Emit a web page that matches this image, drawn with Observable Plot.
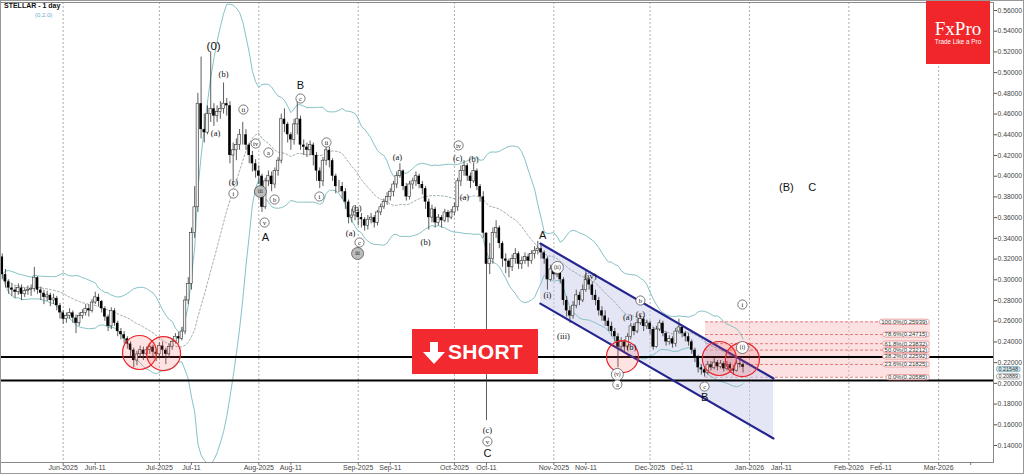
<!DOCTYPE html>
<html><head><meta charset="utf-8">
<script src="https://cdn.jsdelivr.net/npm/d3@7"></script>
<script src="https://cdn.jsdelivr.net/npm/@observablehq/plot@0.6"></script>
<style>
body{margin:0;background:#fff;}
#wrap{position:relative;width:1024px;height:474px;overflow:hidden;font-family:"Liberation Sans",Arial,sans-serif;}
#title{position:absolute;left:4px;top:2px;font:bold 7px "Liberation Sans",Arial,sans-serif;color:#111;}
#sub{position:absolute;left:35px;top:12px;font:6px "Liberation Sans",Arial,sans-serif;color:#6aaecc;}
#logo{position:absolute;left:926px;top:0;width:64px;height:64px;background:#f0262b;color:#fff;}
#logo .a{position:absolute;left:0;width:64px;top:18px;text-align:center;font:19px "Liberation Serif","Times New Roman",serif;}
#logo .b{position:absolute;left:0;width:64px;top:38px;text-align:center;font:6.3px "Liberation Sans",Arial,sans-serif;}
#short{position:absolute;left:412px;top:329px;width:126px;height:45px;background:#f2292e;}
#short span{position:absolute;left:36px;top:11px;font:bold 21px "Liberation Sans",Arial,sans-serif;color:#fff;letter-spacing:0.3px;}
#border{position:absolute;left:0;top:0;width:1022px;height:472px;border:1px solid #999;pointer-events:none;}
</style></head>
<body><div id="wrap"></div>
<script>
// ---------- data ----------
const firstDate = "2025-05-13";
const firstOpen = 0.322;
const closes = [
0.305,0.298,0.292,0.29,0.288,0.292,0.286,0.289,0.29,0.291,
0.302,0.29,0.287,0.283,0.285,0.28,0.282,0.275,0.268,0.262,
0.265,0.268,0.263,0.258,0.265,0.268,0.272,0.27,0.278,0.283,
0.279,0.272,0.264,0.255,0.27,0.258,0.25,0.247,0.243,0.238,
0.232,0.222,0.228,0.232,0.228,0.232,0.235,0.23,0.228,0.236,
0.232,0.228,0.235,0.24,0.245,0.243,0.25,0.28,0.296,0.345,
0.37,0.47,0.445,0.442,0.46,0.465,0.458,0.462,0.465,0.47,
0.468,0.42,0.425,0.43,0.44,0.44,0.43,0.42,0.412,0.405,
0.40,0.37,0.395,0.40,0.392,0.405,0.415,0.455,0.45,0.44,
0.435,0.45,0.455,0.43,0.428,0.425,0.43,0.42,0.405,0.395,
0.415,0.425,0.415,0.40,0.39,0.39,0.385,0.375,0.36,0.362,
0.365,0.36,0.358,0.352,0.358,0.36,0.355,0.365,0.37,0.375,
0.38,0.385,0.392,0.40,0.405,0.39,0.38,0.392,0.395,0.40,
0.392,0.388,0.375,0.36,0.368,0.355,0.36,0.357,0.365,0.36,
0.365,0.37,0.395,0.405,0.41,0.40,0.395,0.405,0.39,0.38,
0.345,0.315,0.32,0.345,0.35,0.335,0.32,0.318,0.312,0.32,
0.325,0.315,0.318,0.322,0.318,0.325,0.328,0.33,0.326,0.32,
0.30,0.31,0.305,0.312,0.30,0.28,0.27,0.265,0.275,0.285,
0.28,0.29,0.30,0.295,0.285,0.28,0.27,0.265,0.26,0.255,
0.25,0.245,0.235,0.24,0.235,0.245,0.255,0.25,0.258,0.262,
0.255,0.258,0.252,0.235,0.252,0.258,0.248,0.24,0.243,0.238,
0.25,0.254,0.248,0.245,0.24,0.232,0.225,0.215,0.213,0.21,
0.218,0.215,0.22,0.216,0.219,0.214,0.218,0.214,0.212,0.219,
0.218,0.2155];
const highs = [
0.325,0.31,0.30,0.296,0.293,0.296,0.295,0.292,0.294,0.295,
0.312,0.303,0.293,0.29,0.289,0.287,0.286,0.284,0.277,0.27,
0.268,0.272,0.27,0.266,0.268,0.271,0.276,0.276,0.281,0.288,
0.286,0.28,0.274,0.266,0.273,0.272,0.26,0.253,0.25,0.245,
0.24,0.234,0.231,0.236,0.235,0.235,0.238,0.237,0.233,0.239,
0.24,0.234,0.238,0.243,0.248,0.249,0.254,0.284,0.302,0.35,
0.39,0.48,0.515,0.46,0.468,0.52,0.47,0.468,0.472,0.49,
0.475,0.472,0.432,0.436,0.445,0.452,0.445,0.432,0.424,0.416,
0.41,0.402,0.398,0.405,0.404,0.408,0.418,0.46,0.465,0.452,
0.442,0.455,0.474,0.458,0.435,0.432,0.434,0.432,0.423,0.408,
0.418,0.43,0.428,0.417,0.402,0.396,0.394,0.388,0.377,0.368,
0.37,0.368,0.364,0.36,0.362,0.364,0.362,0.367,0.373,0.378,
0.384,0.388,0.395,0.404,0.412,0.406,0.393,0.395,0.398,0.404,
0.402,0.395,0.39,0.378,0.372,0.37,0.363,0.362,0.368,0.367,
0.368,0.374,0.398,0.41,0.415,0.412,0.403,0.413,0.407,0.392,
0.385,0.345,0.335,0.35,0.357,0.352,0.337,0.325,0.32,0.324,
0.33,0.327,0.322,0.326,0.325,0.328,0.332,0.337,0.334,0.328,
0.322,0.314,0.313,0.315,0.314,0.302,0.284,0.274,0.279,0.29,
0.288,0.295,0.309,0.302,0.298,0.29,0.283,0.274,0.27,0.263,
0.259,0.253,0.248,0.244,0.242,0.248,0.258,0.258,0.262,0.266,
0.264,0.261,0.26,0.254,0.255,0.261,0.26,0.25,0.246,0.245,
0.253,0.262,0.256,0.25,0.248,0.242,0.234,0.227,0.218,0.215,
0.221,0.221,0.224,0.222,0.222,0.221,0.221,0.22,0.217,0.222,
0.225,0.22];
const lows = [
0.30,0.292,0.286,0.284,0.282,0.285,0.28,0.283,0.285,0.284,
0.288,0.286,0.28,0.276,0.279,0.274,0.276,0.27,0.262,0.257,
0.258,0.262,0.258,0.248,0.255,0.262,0.265,0.264,0.268,0.276,
0.274,0.268,0.26,0.25,0.252,0.255,0.245,0.242,0.238,0.233,
0.226,0.215,0.217,0.224,0.222,0.225,0.228,0.226,0.221,0.225,
0.226,0.218,0.224,0.232,0.238,0.238,0.241,0.247,0.276,0.29,
0.34,0.365,0.436,0.432,0.44,0.452,0.448,0.452,0.455,0.46,
0.458,0.412,0.39,0.415,0.425,0.43,0.425,0.412,0.404,0.398,
0.392,0.365,0.368,0.39,0.385,0.388,0.40,0.412,0.442,0.432,
0.425,0.43,0.44,0.425,0.42,0.418,0.42,0.41,0.395,0.388,
0.39,0.41,0.408,0.395,0.383,0.384,0.378,0.368,0.354,0.355,
0.357,0.352,0.35,0.347,0.348,0.354,0.35,0.352,0.362,0.368,
0.372,0.376,0.38,0.388,0.398,0.386,0.376,0.377,0.387,0.39,
0.388,0.382,0.368,0.348,0.355,0.35,0.352,0.35,0.355,0.355,
0.358,0.362,0.366,0.39,0.40,0.395,0.388,0.393,0.386,0.375,
0.34,0.164,0.305,0.315,0.34,0.33,0.312,0.306,0.302,0.308,
0.315,0.31,0.31,0.315,0.312,0.315,0.32,0.324,0.32,0.315,
0.29,0.298,0.30,0.302,0.296,0.275,0.264,0.258,0.262,0.272,
0.275,0.278,0.288,0.29,0.28,0.275,0.265,0.26,0.255,0.25,
0.245,0.24,0.215,0.232,0.23,0.232,0.242,0.246,0.248,0.256,
0.25,0.252,0.247,0.232,0.234,0.25,0.245,0.236,0.237,0.234,
0.235,0.248,0.244,0.24,0.236,0.228,0.22,0.21,0.208,0.206,
0.208,0.212,0.213,0.212,0.214,0.211,0.212,0.21,0.208,0.211,
0.215,0.21];

const supportLevels = [0.2255, 0.2028];
const fibPct = ["100.0%","78.6%","61.8%","50.0%","38.2%","23.6%","0.0%"];
const fibVal = [0.25939,0.24715,0.23832,0.23212,0.22592,0.21825,0.20585];
const fibFromIdx = 219.3, fibToIdx = 289.4;

const channelIdx = [167.8, 240.5];
const channelTop = [0.335, 0.2047];
const channelBot = [0.277, 0.1468];

const circleIdx = [42.8, 50.3, 193.4, 223.6, 230.8];
const circleVal = [0.2298, 0.2288, 0.2259, 0.224, 0.223];
const circleR   = [17, 17, 16, 17, 17];

const crossIdx = [23, 39, 80, 104, 108, 150, 174, 215];
const crossVal = [0.2597, 0.2423, 0.393, 0.3823, 0.365, 0.3428, 0.2916, 0.2308];
const greenIdx = [56];
const greenVal = [0.251];

// wave labels: text, bar index, price, kind (p=paren serif, c=circled, g=grey circled, b=big sans, z=zero)
const waveText = ["(0)","(b)","(a)","ii","iv","a","(c)","i","iii","b","v","A","B","c","ii","i","(b)","(a)","c","iii",
 "(a)","(b)","iv","(c)","(b)","(a)","A","(i)","(ii)","(iii)","(iv)","(v)","a","(b)","(a)","(c)","b","c","B","i","(i)",
 "(c)","v","C","(B)","C"];
const waveIdx = [65.9,69,66.5,75.2,79,83,72.1,72.1,80.5,84.9,81.8,82.1,93,93,101.1,98.9,110.5,108.6,111.4,110.8,
 123.2,132,142.3,142,147,144.1,168.5,170,173.1,175,183.4,191.8,191.8,196.2,195,199,199,219,219,230.8,230.8,
 151.3,151.3,151.3,244.5,252.6];
const waveVal = [0.5253,0.4982,0.4412,0.4644,0.4316,0.4229,0.3939,0.3833,0.3852,0.3775,0.3553,0.3408,0.4876,0.475,0.4326,0.3804,0.3688,0.3447,0.336,0.3254,
 0.4181,0.336,0.4297,0.4171,0.4161,0.3795,0.3428,0.2848,0.3119,0.2452,0.3032,0.2086,0.1989,0.2346,0.2636,0.2665,0.28,0.197,0.1863,0.2761,0.2346,
 0.1545,0.1439,0.1323,0.3891,0.3891];
const waveKind = ["z","p","p","c","c","c","p","c","g","c","c","b","b","c","c","c","p","p","c","g",
 "p","p","c","p","p","p","b","p","c","p","p","c","c","p","p","p","c","c","b","c","c",
 "p","c","b","b","b"];

const yTicks = [0.14,0.16,0.18,0.20,0.22,0.24,0.26,0.28,0.30,0.32,0.34,0.36,0.38,0.40,0.42,0.44,0.46,0.48,0.50,0.52,0.54,0.56];
const xTickDates = ["2025-06-01","2025-06-11","2025-07-01","2025-07-11","2025-08-01","2025-08-11","2025-09-01","2025-09-11",
 "2025-10-01","2025-10-11","2025-11-01","2025-11-11","2025-12-01","2025-12-11","2026-01-01","2026-01-11",
 "2026-02-01","2026-02-11","2026-03-01","2026-03-11"];
const xTickLabels = ["Jun-2025","Jun-11","Jul-2025","Jul-11","Aug-2025","Aug-11","Sep-2025","Sep-11",
 "Oct-2025","Oct-11","Nov-2025","Nov-11","Dec-2025","Dec-11","Jan-2026","Jan-11",
 "Feb-2026","Feb-11","Mar-2026",""];
const monthStarts = ["2025-06-01","2025-07-01","2025-08-01","2025-09-01","2025-10-01","2025-11-01","2025-12-01","2026-01-01","2026-02-01","2026-03-01"];
const priceTagText = ["0.21548","0.20889"];
const priceTagVal = [0.21548, 0.20889];

// ---------- build ----------
const DAY = 864e5;
const t0 = Date.parse(firstDate + "T00:00:00Z");
const at = i => new Date(t0 + i * DAY);
const jun1 = Date.parse("2025-06-01T00:00:00Z");

const bars = closes.map((c, i) => ({
  date: at(i), open: i ? closes[i - 1] : firstOpen, close: c, high: highs[i], low: lows[i]
}));
const N = 20;
const bb = bars.map((b, i) => {
  const w = closes.slice(Math.max(0, i - N + 1), i + 1);
  const m = d3.mean(w);
  const sd = Math.sqrt(d3.mean(w, v => (v - m) ** 2));
  return {date: b.date, mid: m, up: m + 2 * sd, lo: m - 2 * sd};
});
const half = 0.4 * DAY;
const up = bars.filter(d => d.close >= d.open);
const dn = bars.filter(d => d.close < d.open);

const channel = channelIdx.map((ix, k) => ({date: at(ix), top: channelTop[k], bot: channelBot[k]}));
const fib = fibVal.map((v, k) => ({v, label: `${fibPct[k]}(${v.toFixed(5)})`}));
const circles = circleIdx.map((ix, k) => ({date: at(ix), v: circleVal[k], r: circleR[k]}));
const crosses = crossIdx.map((ix, k) => ({date: at(ix), v: crossVal[k]}));
const greens = greenIdx.map((ix, k) => ({date: at(ix), v: greenVal[k]}));
const waves = waveText.map((t, k) => ({text: t, date: at(waveIdx[k]), v: waveVal[k], kind: waveKind[k]}));
const circled = waves.filter(w => w.kind === "c" || w.kind === "g");
const tagData = priceTagText.map((t, k) => ({text: t, v: priceTagVal[k]}));
const xt = xTickDates.map(s => new Date(s + "T00:00:00Z"));
const xLabelOf = new Map(xt.map((d, k) => [+d, xTickLabels[k]]));

const chart = Plot.plot({
  width: 1024, height: 474,
  marginLeft: 0, marginRight: 31, marginTop: 2, marginBottom: 12,
  style: {fontFamily: "Liberation Sans, Arial, sans-serif", fontSize: "7px", background: "white", color: "#333"},
  x: {type: "utc", domain: [new Date(jun1 - 19.55 * DAY), new Date(jun1 + 290.1 * DAY)]},
  y: {domain: [0.1236, 0.5677]},
  r: {type: "identity"},
  marks: [
    Plot.ruleX(monthStarts.map(s => new Date(s + "T00:00:00Z")), {stroke: "#9a9a9a", strokeDasharray: "2,2", strokeWidth: 0.8}),
    Plot.rect([0], {x1: () => at(fibFromIdx), x2: () => at(fibToIdx), y1: () => fibVal[6], y2: () => fibVal[0], fill: "#f4b3b3", fillOpacity: 0.4}),
    Plot.ruleY(fib, {y: "v", x1: () => at(fibFromIdx), x2: () => at(fibToIdx), stroke: "#e06060", strokeDasharray: "3,2", strokeWidth: 0.8}),
    Plot.areaY(channel, {x: "date", y1: "top", y2: "bot", fill: "#c9cdeb", fillOpacity: 0.5}),
    Plot.line(bb, {x: "date", y: "up", stroke: "#86c2c6", strokeWidth: 1, clip: true}),
    Plot.line(bb, {x: "date", y: "lo", stroke: "#86c2c6", strokeWidth: 1, clip: true}),
    Plot.line(bb, {x: "date", y: "mid", stroke: "#8a9a9c", strokeWidth: 0.8, strokeDasharray: "2,2", clip: true}),
    Plot.ruleY(supportLevels, {stroke: "#000", strokeWidth: 2}),
    Plot.ruleX(bars, {x: "date", y1: "low", y2: "high", stroke: "#333", strokeWidth: 0.8}),
    Plot.rect(up, {x1: d => new Date(+d.date - half), x2: d => new Date(+d.date + half), y1: "open", y2: "close", fill: "#f2f2f2", stroke: "#333", strokeWidth: 0.6}),
    Plot.rect(dn, {x1: d => new Date(+d.date - half), x2: d => new Date(+d.date + half), y1: "open", y2: "close", fill: "#000"}),
    Plot.line(channel, {x: "date", y: "top", stroke: "#25258f", strokeWidth: 2.2}),
    Plot.line(channel, {x: "date", y: "bot", stroke: "#25258f", strokeWidth: 2.2}),
    Plot.dot(circles, {x: "date", y: "v", r: "r", fill: "#ff5050", fillOpacity: 0.16, stroke: "#e8262b", strokeWidth: 1.2}),
    Plot.dot(crosses, {x: "date", y: "v", symbol: "plus", r: 2.6, fill: "#b3151b"}),
    Plot.dot(greens, {x: "date", y: "v", symbol: "plus", r: 2.6, fill: "#2e9d3a"}),
    Plot.dot(circled, {x: "date", y: "v", r: d => d.text.length > 2 ? 6 : 4.6, fill: d => d.kind === "g" ? "#bdbdbd" : "white", stroke: "#444", strokeWidth: 0.7}),
    Plot.text(circled, {x: "date", y: "v", text: "text", fontSize: d => d.text.length > 2 ? 5.5 : 6.5, fontFamily: "Liberation Serif, serif", fill: "#111"}),
    Plot.text(waves.filter(w => w.kind === "p"), {x: "date", y: "v", text: "text", fontSize: 8.5, fontFamily: "Liberation Serif, serif", fill: "#111"}),
    Plot.text(waves.filter(w => w.kind === "b"), {x: "date", y: "v", text: "text", fontSize: 11, fontFamily: "Liberation Sans, Arial, sans-serif", fill: "#111"}),
    Plot.text(waves.filter(w => w.kind === "z"), {x: "date", y: "v", text: "text", fontSize: 11.5, fontFamily: "Liberation Sans, Arial, sans-serif", fill: "#111"}),
    Plot.text(fib, {x: () => at(fibToIdx), y: "v", text: "label", textAnchor: "end", dx: -3, fontSize: 6, fill: "#333"}),
    Plot.frame({stroke: "#888", strokeWidth: 1}),
    Plot.axisY({anchor: "right", ticks: yTicks, tickFormat: d => d.toFixed(5), tickSize: 3, tickPadding: 1, fontSize: 6.8, fill: "#444", stroke: "#555"}),
    Plot.axisX({ticks: xt, tickFormat: d => xLabelOf.get(+d) ?? "", tickSize: 3, tickPadding: 0, fontSize: 7, fill: "#444", stroke: "#777"}),
    Plot.text(tagData.slice(0, 1), {y: "v", text: "text", frameAnchor: "right", dx: 5, dy: 2, textAnchor: "start", fontSize: 5.4, fill: "#333"}),
    Plot.text(tagData.slice(1), {y: "v", text: "text", frameAnchor: "right", dx: 5, dy: 2.5, textAnchor: "start", fontSize: 5.4, fill: "#333"})
  ]
});

const wrap = document.getElementById("wrap");
wrap.appendChild(chart);

// rounded boxes behind fib labels and price tags
const NS = "http://www.w3.org/2000/svg";
const fibSet = new Set(fib.map(f => f.label));
const tagSet = new Set(priceTagText);
chart.querySelectorAll("text").forEach(t => {
  const s = t.textContent;
  let style = null;
  if (fibSet.has(s)) style = {fill: "#fff", stroke: "#e58a8a", rx: 3};
  else if (tagSet.has(s)) {
    style = s === "0.21548" ? {fill: "#cfe6ef", stroke: "#7aaabb", rx: 2} : {fill: "#fff", stroke: "#999", rx: 2};
  }
  if (!style) return;
  const b = t.getBBox();
  const r = document.createElementNS(NS, "rect");
  r.setAttribute("x", b.x - 2); r.setAttribute("y", b.y + 0.4);
  r.setAttribute("width", b.width + 4); r.setAttribute("height", b.height - 0.8);
  r.setAttribute("rx", style.rx); r.setAttribute("fill", style.fill);
  r.setAttribute("stroke", style.stroke); r.setAttribute("stroke-width", 0.8);
  const tr = t.getAttribute("transform"); if (tr) r.setAttribute("transform", tr);
  t.parentNode.insertBefore(r, t);
});

// overlays
wrap.insertAdjacentHTML("beforeend", `
<div id="title">STELLAR - 1 day</div>
<div id="sub">(0,2.0)</div>
<div id="logo"><div class="a">FxPro</div><div class="b">Trade Like a Pro</div></div>
<div id="short">
 <svg width="26" height="26" style="position:absolute;left:9px;top:12px" viewBox="0 0 26 26">
  <polygon points="9,1 17,1 17,11 24,11 13,23 2,11 9,11" fill="#fff"/>
 </svg>
 <span>SHORT</span>
</div>
<div id="border"></div>`);
</script>
</body></html>
